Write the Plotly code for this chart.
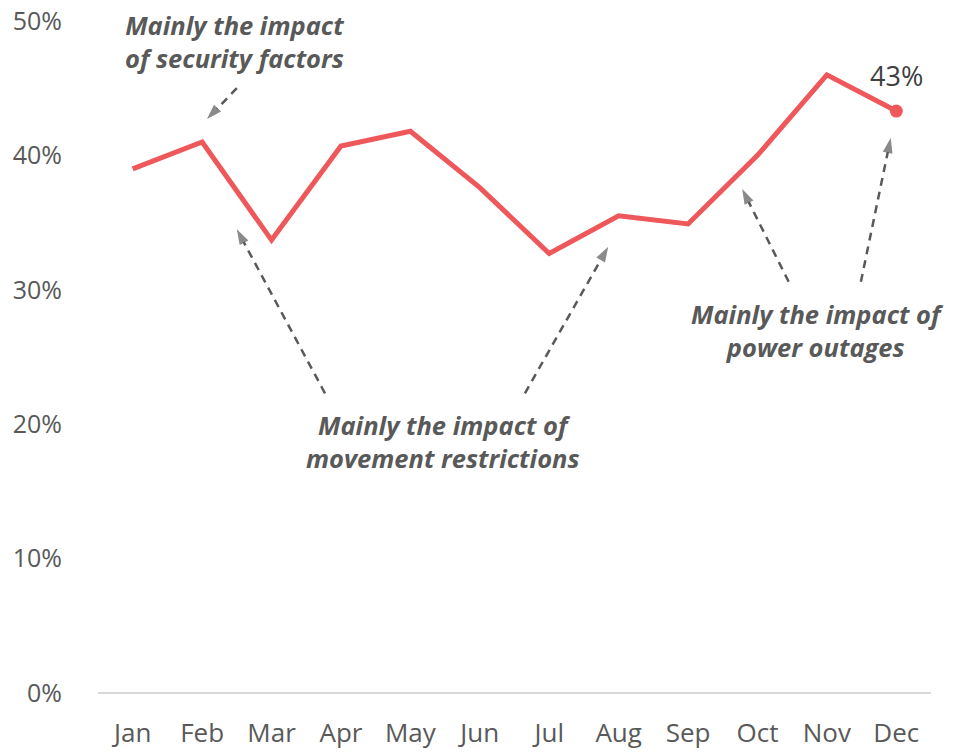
import plotly.graph_objects as go

months = ["Jan", "Feb", "Mar", "Apr", "May", "Jun", "Jul", "Aug", "Sep", "Oct", "Nov", "Dec"]
share = [39.0, 41.0, 33.7, 40.7, 41.8, 37.6, 32.7, 35.5, 34.9, 40.0, 46.0, 43.3]
y_ticks = [0, 10, 20, 30, 40, 50]
y_tick_text = ["0%", "10%", "20%", "30%", "40%", "50%"]

notes = [
    "Mainly the impact<br>of security factors",
    "Mainly the impact of<br>movement restrictions",
    "Mainly the impact of<br>power outages",
]
note_pos = [(1.47, 48.45), (4.47, 18.7), (9.86, 26.95)]
# arrows: (tail_x, tail_y, head_x, head_y) in data units
arrows = [
    (1.50, 45.0, 1.07, 42.7),
    (2.77, 22.3, 1.50, 34.5),
    (5.65, 22.3, 6.85, 33.2),
    (9.45, 30.6, 8.78, 37.5),
    (10.49, 30.6, 10.92, 41.3),
]

RED = "#EF585B"
GREY = "#595959"
x_idx = list(range(len(months)))

fig = go.Figure()
fig.add_trace(go.Scatter(
    x=x_idx, y=share, mode="lines",
    line=dict(color=RED, width=5), hoverinfo="skip", showlegend=False,
))
fig.add_trace(go.Scatter(
    x=[x_idx[-1]], y=[share[-1]], mode="markers",
    marker=dict(color=RED, size=13), showlegend=False,
))

for tx, ty, hx, hy in arrows:
    fig.add_trace(go.Scatter(
        x=[tx, hx], y=[ty, hy], mode="lines+markers",
        line=dict(color=GREY, width=2.5, dash="8px,6px"),
        marker=dict(symbol=["circle", "arrow"], size=[0, 16], color=GREY,
                    angleref="previous", line=dict(width=0)),
        showlegend=False, hoverinfo="skip",
    ))

for text, (nx, ny) in zip(notes, note_pos):
    fig.add_annotation(
        x=nx, y=ny, text=f"<b><i>{text}</i></b>", showarrow=False,
        font=dict(family="Open Sans", size=25.5, color=GREY),
        align="center", xanchor="center", yanchor="middle",
    )

fig.add_annotation(
    x=x_idx[-1], y=share[-1], text=f"{round(share[-1])}%", showarrow=False,
    yshift=36, font=dict(family="Open Sans", size=27, color="#404040"),
)

fig.update_layout(
    width=955, height=752,
    margin=dict(l=98, r=24, t=21, b=59, autoexpand=False),
    paper_bgcolor="white", plot_bgcolor="white",
    font=dict(family="Open Sans", size=26, color=GREY),
    xaxis=dict(
        range=[-0.5, 11.5], tickvals=x_idx, ticktext=months,
        showgrid=False, zeroline=False, showline=False, automargin=False,
        ticks="outside", ticklen=17, tickcolor="rgba(0,0,0,0)",
        tickfont=dict(size=26, color=GREY), ticklabeloverflow="allow",
    ),
    yaxis=dict(
        range=[0, 50], tickvals=y_ticks, ticktext=y_tick_text,
        showgrid=False, zeroline=True, zerolinecolor="#D9D9D9", zerolinewidth=1.5,
        showline=False, automargin=False, ticks="outside", ticklen=30,
        tickcolor="rgba(0,0,0,0)",
        tickfont=dict(size=25, color=GREY), ticklabeloverflow="allow",
    ),
)

fig.write_html(
    "out.html",
    config={"displayModeBar": False},
    post_script="document.body.style.margin='0';",
)
